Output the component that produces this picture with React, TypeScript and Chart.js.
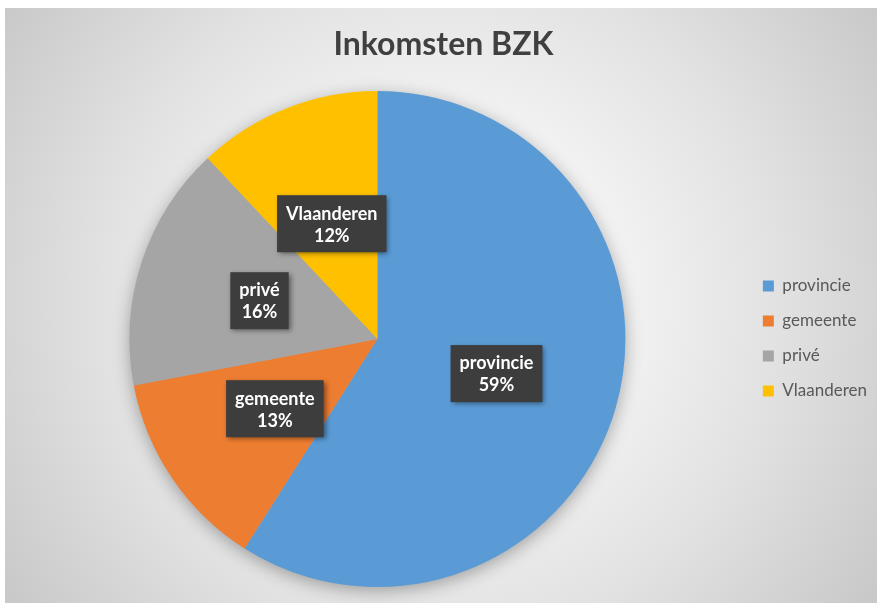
import React, { useEffect, useRef } from "react";
import { Chart, registerables } from "chart.js";

Chart.register(...registerables);

const categories = ["provincie", "gemeente", "privé", "Vlaanderen"];
const values = [59, 13, 16, 12];
const colors = ["#5B9BD5", "#ED7D31", "#A5A5A5", "#FFC000"];
const titleText = "Inkomsten BZK";

const FONT = "Lato, 'Open Sans', sans-serif";

const backgroundPlugin = {
  id: "bgFrame",
  beforeDraw(chart: any) {
    const { ctx, width, height } = chart;
    ctx.save();
    ctx.fillStyle = "#ffffff";
    ctx.fillRect(0, 0, width, height);
    const x0 = 5, y0 = 8;
    const g = ctx.createRadialGradient(440, 300, 0, 440, 300, 560);
    g.addColorStop(0, "#ffffff");
    g.addColorStop(0.25, "#f7f7f7");
    g.addColorStop(0.6, "#e2e2e2");
    g.addColorStop(1, "#c4c4c4");
    ctx.fillStyle = g;
    ctx.fillRect(x0, y0, width - x0, height - y0);
    ctx.restore();
  },
};

const shadowPlugin = {
  id: "pieShadow",
  beforeDatasetsDraw(chart: any) {
    const meta = chart.getDatasetMeta(0);
    const arc = meta.data[0];
    if (!arc) return;
    const { x, y, outerRadius } = arc.getProps(["x", "y", "outerRadius"], true);
    const ctx = chart.ctx;
    ctx.save();
    ctx.shadowColor = "rgba(0,0,0,0.35)";
    ctx.shadowBlur = 18;
    ctx.shadowOffsetY = 4;
    ctx.fillStyle = "#aaaaaa";
    ctx.beginPath();
    ctx.arc(x, y, outerRadius - 1, 0, Math.PI * 2);
    ctx.fill();
    ctx.restore();
  },
};

const labelPlugin = {
  id: "boxLabels",
  afterDatasetsDraw(chart: any) {
    const ctx = chart.ctx;
    const meta = chart.getDatasetMeta(0);
    const data = chart.data.datasets[0].data as number[];
    const total = data.reduce((a, b) => a + b, 0);
    ctx.save();
    ctx.font = `bold 18px ${FONT}`;
    ctx.textAlign = "center";
    ctx.textBaseline = "middle";
    meta.data.forEach((arc: any, i: number) => {
      const pos = arc.tooltipPosition(true);
      const l1 = String(chart.data.labels[i]);
      const l2 = Math.round((data[i] / total) * 100) + "%";
      const w = Math.max(ctx.measureText(l1).width, ctx.measureText(l2).width) + 18;
      const h = 57;
      ctx.save();
      ctx.shadowColor = "rgba(0,0,0,0.45)";
      ctx.shadowBlur = 5;
      ctx.shadowOffsetX = 2;
      ctx.shadowOffsetY = 2;
      ctx.fillStyle = "#3d3d3d";
      ctx.fillRect(pos.x - w / 2, pos.y - h / 2, w, h);
      ctx.restore();
      ctx.fillStyle = "#ffffff";
      ctx.fillText(l1, pos.x, pos.y - 10);
      ctx.fillText(l2, pos.x, pos.y + 12);
    });
    ctx.restore();
  },
};

export default function App() {
  const ref = useRef<HTMLCanvasElement>(null);
  useEffect(() => {
    document.body.style.margin = "0";
    const chart = new Chart(ref.current!, {
      type: "pie",
      data: {
        labels: categories,
        datasets: [
          {
            data: values,
            backgroundColor: colors,
            borderWidth: 0,
          },
        ],
      },
      options: {
        animation: false,
        responsive: false,
        rotation: 0,
        layout: { padding: { top: 0, bottom: 16, left: 10, right: 0 } },
        plugins: {
          title: {
            display: true,
            text: titleText,
            color: "#404040",
            font: { family: FONT, size: 32, weight: "bold" },
            padding: { top: 25, bottom: 27.6 },
          },
          legend: {
            position: "right",
            title: {
              display: true,
              text: "",
              font: { size: 10, lineHeight: 1 },
              padding: { top: 40, bottom: 40 },
            },
            labels: {
              boxWidth: 11,
              boxHeight: 11,
              padding: 18,
              color: "#595959",
              font: { family: FONT, size: 17 },
            },
          },
          tooltip: { enabled: false },
        },
      },
      plugins: [backgroundPlugin, shadowPlugin, labelPlugin],
    });
    return () => chart.destroy();
  }, []);
  return <canvas ref={ref} width={877} height={603} style={{ display: "block" }} />;
}
